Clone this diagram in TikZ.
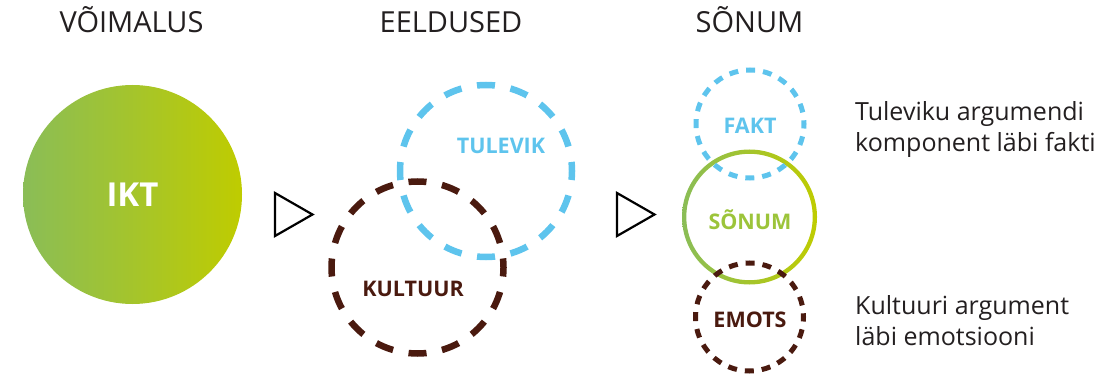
\documentclass[tikz,border=0pt]{standalone}
\usepackage{fontspec}
\setmainfont{Open Sans}
\definecolor{txt}{HTML}{231F20}
\definecolor{cblue}{HTML}{5EC4ED}
\definecolor{cbrown}{HTML}{4A1A0F}
\definecolor{gleft}{HTML}{8ABD57}
\definecolor{gright}{HTML}{BFCC00}
\definecolor{sgreen}{HTML}{9CC43A}
\tikzset{
  header/.style={anchor=base, text=txt, font=\fontsize{29}{33}\selectfont, inner sep=0},
  note/.style={anchor=base west, text=txt, font=\fontsize{25}{31}\selectfont, inner sep=0},
  lbl/.style={font=\bfseries\fontsize{21.5}{26}\selectfont, inner sep=0},
  bigdash/.style={line width=6.5, dash pattern=on 18 off 15.77, dash phase=9},
  smalldash/.style={line width=5, dash pattern=on 9 off 8, dash phase=4.5},
  tri/.style={draw=black, line width=2.2, line join=miter}
}
\begin{document}
\begin{tikzpicture}[x=1pt,y=-1pt]
\useasboundingbox (0,0) rectangle (1115,379);
% headers
\node[header] (h1) at (131.5,33) {VÕIMALUS};
\node[header] (h2) at (451,33) {EELDUSED};
\node[header] (h3) at (749.5,33) {SÕNUM};
% IKT
\node[circle, minimum size=219, inner sep=0, left color=gleft, right color=gright, text=white,
      font=\bfseries\fontsize{33}{38}\selectfont] (ikt) at (132.5,194.5) {IKT};
% triangles
\coordinate (t1a) at (275,193); \coordinate (t1b) at (312.5,214.5); \coordinate (t1c) at (275,236);
\draw[tri] (t1a) -- (t1b) -- (t1c) -- cycle;
\coordinate (t2a) at (617,193); \coordinate (t2b) at (654.5,214.5); \coordinate (t2c) at (617,236);
\draw[tri] (t2a) -- (t2b) -- (t2c) -- cycle;
% EELDUSED circles
\coordinate (ctul) at (486,171);
\coordinate (ckul) at (417.5,267.5);
\draw[cblue, bigdash] (ctul) circle (86);
\draw[cbrown, bigdash] (ckul) circle (86);
\node[lbl, text=cblue] (tul) at (501,146) {TULEVIK};
\node[lbl, text=cbrown] (kul) at (413,289) {KULTUUR};
% SÕNUM column
\coordinate (cson) at (749.5,217);
\shade[left color=gleft, right color=gright, even odd rule] (cson) circle (67.5) (cson) circle (63.2);
\coordinate (cfak) at (750,124);
\coordinate (cemo) at (749.5,317);
\draw[cblue, smalldash] (cfak) circle (54);
\draw[cbrown, smalldash] (cemo) circle (54);
\node[lbl, text=cblue] (fakt) at (750,126) {FAKT};
\node[lbl, text=sgreen] (son) at (750,220) {SÕNUM};
\node[lbl, text=cbrown] (emo) at (750,320) {EMOTS};
% notes
\node[note] (n1) at (855,121) {Tuleviku argumendi};
\node[note] (n2) at (855,152) {komponent läbi fakti};
\node[note] (n3) at (855,314) {Kultuuri argument};
\node[note] (n4) at (855,345) {läbi emotsiooni};
\end{tikzpicture}
\end{document}
